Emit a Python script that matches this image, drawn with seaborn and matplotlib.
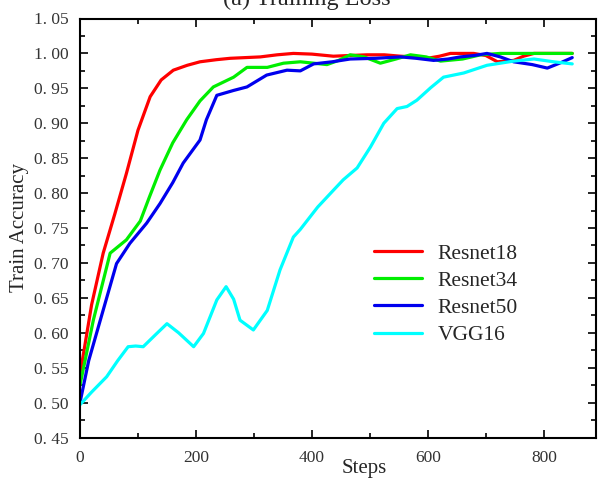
import numpy as np
import pandas as pd
import matplotlib
matplotlib.use("Agg")
import matplotlib.pyplot as plt
from matplotlib.ticker import MultipleLocator, FuncFormatter
import seaborn as sns

# Training accuracy curves per model (steps, accuracy)
resnet18_steps = [0, 20, 40, 60, 80, 100, 121, 140, 161, 185, 207, 235, 259, 285, 311, 340, 368, 400, 437, 465, 495, 525, 553, 575, 599, 620, 639, 660, 679, 700, 720, 748, 765, 783, 810, 849]
resnet18_acc = [0.54, 0.64, 0.714, 0.77, 0.828, 0.89, 0.938, 0.962, 0.976, 0.983, 0.988, 0.991, 0.993, 0.994, 0.995, 0.998, 1.0, 0.999, 0.996, 0.997, 0.998, 0.998, 0.996, 0.995, 0.993, 0.996, 1.0, 1.0, 1.0, 0.997, 0.988, 0.99, 0.996, 1.0, 1.0, 1.0]

resnet34_steps = [0, 23, 52, 80, 104, 120, 138, 160, 184, 207, 230, 265, 288, 323, 351, 380, 403, 426, 446, 466, 490, 518, 545, 570, 597, 622, 660, 691, 725, 780, 849]
resnet34_acc = [0.525, 0.618, 0.714, 0.733, 0.76, 0.795, 0.833, 0.872, 0.905, 0.932, 0.952, 0.966, 0.98, 0.98, 0.986, 0.988, 0.986, 0.984, 0.99, 0.998, 0.995, 0.986, 0.992, 0.998, 0.995, 0.989, 0.992, 0.998, 1.0, 1.0, 1.0]

resnet50_steps = [0, 15, 35, 63, 86, 115, 138, 160, 178, 207, 218, 236, 265, 288, 322, 357, 380, 403, 435, 466, 510, 553, 580, 610, 635, 656, 680, 702, 725, 748, 780, 806, 830, 849]
resnet50_acc = [0.50, 0.56, 0.618, 0.699, 0.728, 0.757, 0.785, 0.815, 0.843, 0.876, 0.905, 0.94, 0.947, 0.952, 0.969, 0.976, 0.975, 0.985, 0.988, 0.992, 0.993, 0.995, 0.993, 0.99, 0.992, 0.995, 0.997, 1.0, 0.995, 0.988, 0.984, 0.979, 0.987, 0.994]

vgg16_steps = [0, 20, 46, 65, 83, 96, 109, 130, 150, 170, 196, 213, 236, 252, 265, 276, 299, 323, 345, 368, 380, 410, 437, 454, 478, 501, 524, 547, 564, 581, 605, 627, 662, 702, 748, 783, 817, 849]
vgg16_acc = [0.497, 0.515, 0.537, 0.56, 0.58, 0.581, 0.58, 0.597, 0.613, 0.6, 0.58, 0.599, 0.647, 0.666, 0.648, 0.618, 0.604, 0.632, 0.69, 0.737, 0.748, 0.78, 0.804, 0.819, 0.836, 0.866, 0.9, 0.921, 0.924, 0.933, 0.951, 0.966, 0.972, 0.983, 0.989, 0.992, 0.988, 0.985]

model_names = ["Resnet18", "Resnet34", "Resnet50", "VGG16"]
model_colors = ["#ff0000", "#00ee00", "#0000ee", "#00ffff"]

frames = []
for name, s, a in zip(model_names,
                      [resnet18_steps, resnet34_steps, resnet50_steps, vgg16_steps],
                      [resnet18_acc, resnet34_acc, resnet50_acc, vgg16_acc]):
    frames.append(pd.DataFrame({"Steps": s, "Accuracy": a, "Model": name}))
df = pd.concat(frames, ignore_index=True)

sns.set_style("ticks")
plt.rcParams["font.family"] = ["Liberation Serif", "DejaVu Serif"]

fig = plt.figure(figsize=(6.01, 4.78), dpi=100)
ax = fig.add_axes([80 / 601, 1 - 437.5 / 478, 516 / 601, 419 / 478])

sns.lineplot(data=df, x="Steps", y="Accuracy", hue="Model",
             palette=dict(zip(model_names, model_colors)),
             linewidth=2.3, ax=ax, sort=False, estimator=None)

ax.set_xlim(0, 890)
ax.set_ylim(0.45, 1.05)
ax.xaxis.set_major_locator(MultipleLocator(200))
ax.xaxis.set_minor_locator(MultipleLocator(100))
ax.yaxis.set_major_locator(MultipleLocator(0.05))
ax.yaxis.set_minor_locator(MultipleLocator(0.025))
ax.yaxis.set_major_formatter(FuncFormatter(lambda v, p: f"{v:.2f}".replace(".", ". ")))

ax.tick_params(which="both", direction="in", top=True, right=True,
               colors="black", labelcolor="#333333", labelsize=12.5, width=1.2)
ax.tick_params(which="major", length=6)
ax.tick_params(which="minor", length=3.5)
ax.tick_params(axis="x", pad=9)
ax.tick_params(axis="y", pad=8)
for sp in ax.spines.values():
    sp.set_visible(True)
    sp.set_linewidth(1.5)
    sp.set_color("black")

ax.set_xlabel("Steps", fontsize=15)
ax.xaxis.label.set_va("baseline")
ax.xaxis.set_label_coords(0.55, -(472.5 - 437.5) / 419)
ax.set_ylabel("Train Accuracy", fontsize=15, labelpad=4)

leg = ax.legend(loc="upper left", bbox_to_anchor=(0.533, 0.509), frameon=False,
                fontsize=15.5, handlelength=2.2, handletextpad=0.75,
                labelspacing=0.33)
for line in leg.get_lines():
    line.set_linewidth(2.3)

fig.text(0.51, 1 - 5 / 478, "(a) Training Loss", ha="center", va="baseline",
         fontsize=17.5)

fig.savefig("out.png", dpi=100)
